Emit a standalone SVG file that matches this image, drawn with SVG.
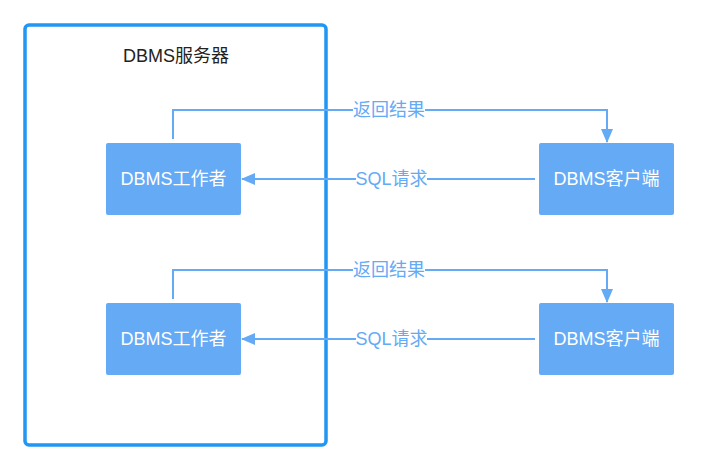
<svg xmlns="http://www.w3.org/2000/svg" width="702" height="472" viewBox="0 0 702 472">
<defs>
<marker id="arr" viewBox="0 0 14 12" refX="13" refY="6" markerWidth="14" markerHeight="12" markerUnits="userSpaceOnUse" orient="auto">
<path d="M0,0 L14,6 L0,12 Z" fill="#64AAF5"/>
</marker>
</defs>
<style>
.node rect{fill:#64AAF5;stroke:none}
.node text{fill:#ffffff;font-family:"Liberation Sans","Noto Sans CJK SC",sans-serif;font-size:18px;text-anchor:middle;dominant-baseline:central}
.edge{fill:none;stroke:#64AAF5;stroke-width:2}
.lbl{fill:#64AAF5;font-family:"Liberation Sans","Noto Sans CJK SC",sans-serif;font-size:18px;text-anchor:middle;dominant-baseline:central}
.lblbg{fill:#ffffff}
</style>
<g id="server">
<rect x="25" y="25" width="301" height="420" rx="4" fill="#ffffff" stroke="#2196F3" stroke-width="3.5"/>
<text x="176" y="56" font-family="'Liberation Sans','Noto Sans CJK SC',sans-serif" font-size="18" fill="#222" text-anchor="middle" dominant-baseline="central">DBMS服务器</text>
</g>
<g id="connectors">
<path class="edge" d="M173,139 V110 H607 V142" marker-end="url(#arr)"/>
<path class="edge" d="M535,179 H242" marker-end="url(#arr)"/>
<path class="edge" d="M173,299 V270 H607 V302" marker-end="url(#arr)"/>
<path class="edge" d="M535,339 H242" marker-end="url(#arr)"/>
<rect class="lblbg" x="353" y="100" width="72" height="20"/>
<text class="lbl" x="389" y="110">返回结果</text>
<rect class="lblbg" x="356" y="169" width="71" height="20"/>
<text class="lbl" x="391.5" y="179">SQL请求</text>
<rect class="lblbg" x="353" y="260" width="72" height="20"/>
<text class="lbl" x="389" y="270">返回结果</text>
<rect class="lblbg" x="356" y="329" width="71" height="20"/>
<text class="lbl" x="391.5" y="339">SQL请求</text>
</g>
<g id="worker1" class="node">
<rect x="106" y="143" width="135" height="72" rx="2"/>
<text x="173.5" y="179">DBMS工作者</text>
</g>
<g id="worker2" class="node">
<rect x="106" y="303" width="135" height="72" rx="2"/>
<text x="173.5" y="339">DBMS工作者</text>
</g>
<g id="client1" class="node">
<rect x="539" y="143" width="135" height="72" rx="2"/>
<text x="606.5" y="179">DBMS客户端</text>
</g>
<g id="client2" class="node">
<rect x="539" y="303" width="135" height="72" rx="2"/>
<text x="606.5" y="339">DBMS客户端</text>
</g>
</svg>
